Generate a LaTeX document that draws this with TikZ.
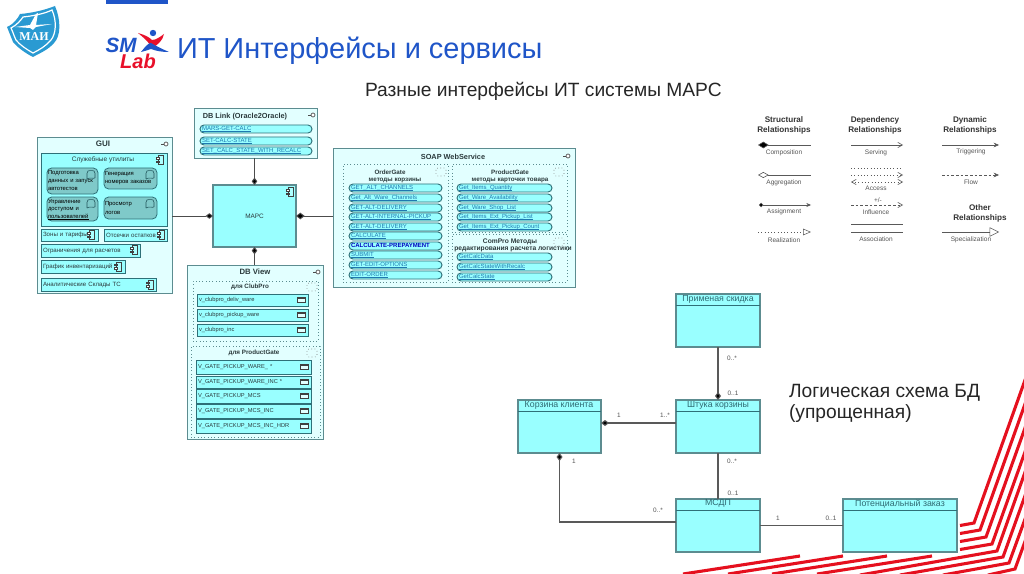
\documentclass[tikz,border=0pt]{standalone}
\usepackage{fontspec}
\setmainfont{Liberation Sans}
\newfontfamily\serifmai{Liberation Serif}
\usetikzlibrary{arrows.meta}
\definecolor{cyanA}{HTML}{99FFFF}
\definecolor{cyanB}{HTML}{E2FFFF}
\definecolor{cyanC}{HTML}{7FC9C9}
\definecolor{edgeA}{HTML}{5C8C90}
\definecolor{edgeB}{HTML}{2E7078}
\definecolor{linkblue}{HTML}{1F78B0}
\definecolor{titleblue}{HTML}{1F55C8}
\definecolor{maiblue}{HTML}{2A9AD2}
\definecolor{smred}{HTML}{E8102A}
\definecolor{stripered}{HTML}{E5101E}
\definecolor{inkA}{HTML}{2B3A3C}
\definecolor{umlink}{HTML}{2F6A72}
\definecolor{greyA}{HTML}{555555}
\newcommand\fpt[1]{\fontsize{#1}{#1}\selectfont}
\newlength\ulw
\newcommand\ul[1]{\settowidth\ulw{#1}\makebox[0pt][l]{\rule[-.65pt]{\ulw}{.22pt}}#1}
\newcommand\bx[7][]{%
  \pgfmathsetmacro\bw{(#5-#3)*0.75}\pgfmathsetmacro\bh{(#6-#4)*0.75}%
  \pgfmathsetmacro\cx{(#3+#5)/2}\pgfmathsetmacro\cy{(#4+#6)/2}%
  \node[#1,minimum width=\bw pt,minimum height=\bh pt] (#2) at (\cx,\cy) {#7};}
\tikzset{
  base/.style={inner sep=0pt,outer sep=0pt},
  lefttext/.style={text width={\bw pt-3pt},align=left},
  container/.style={base,draw=edgeA,fill=cyanB,line width=.7pt},
  dashbox/.style={base,draw=edgeA,dotted,line width=.5pt},
  util/.style={base,draw=edgeB,fill=cyanA,line width=.6pt},
  comps/.style={base,draw=edgeB,fill=cyanA,line width=.7pt,lefttext,font=\fpt{4.6},text=inkA},
  service/.style={base,draw=edgeB,fill=cyanC,rounded corners=3.5pt,line width=.6pt,lefttext,text width={\bw pt-1.5pt},font=\fpt{4.4},text=black,align=left},
  pill/.style={base,draw=edgeB,fill=cyanA,rounded corners=3pt,line width=.7pt,lefttext,font=\fpt{4.5},text=linkblue,text height=3.2pt,text depth=.9pt},
  tableitem/.style={base,draw=edgeB,fill=cyanA,line width=.6pt,lefttext,font=\fpt{4.3},text=inkA},
  core/.style={base,draw=edgeA,fill=cyanA,line width=.8pt,font=\fpt{4.8},text=inkA},
  umlclass/.style={base,draw=edgeA,fill=cyanA,line width=.8pt},
  ctitle/.style={base,font=\fpt{5.5}\bfseries,text=inkA},
  dtitle/.style={base,font=\fpt{4.7}\bfseries,text=inkA,align=center},
  txt/.style={base,font=\fpt{4.9},text=inkA},
  umltitle/.style={base,font=\fpt{6.6},text=umlink},
  mult/.style={base,font=\fpt{4.8},text=greyA},
  leghead/.style={base,font=\fpt{6.1}\bfseries,text=black!80,align=center},
  leglab/.style={base,font=\fpt{4.9},text=greyA},
  conn/.style={draw=black!70,line width=.7pt,-{Diamond[length=5.5pt,width=4.2pt,fill=black]}},
  umlconn/.style={draw=black!65,line width=.8pt},
  umlcomp/.style={umlconn,-{Diamond[length=6pt,width=4.5pt,fill=black]}},
  legline/.style={draw=black!65,line width=.45pt},
  stripe/.style={draw=stripered,line width=2.3pt,line join=miter},
  comp/.pic={
    \draw[black!75,line width=.5pt,fill=white!20!cyanA] (-2,-4.5) rectangle (3,4.5);
    \draw[black!75,line width=.4pt,fill=white] (-3.5,-2.5) rectangle (-.5,-.8);
    \draw[black!75,line width=.4pt,fill=white] (-3.5,.8) rectangle (-.5,2.5);
  },
  lolli/.pic={
    \draw[black!70,line width=.5pt] (-4,0) -- (-1,0);
    \draw[black!70,line width=.5pt,fill=white] (1,0) circle (2);
  },
  cloudi/.pic={
    \draw[black!55,dotted,line width=.45pt,rounded corners=1.5pt] (-5,-4) rectangle (5,4);
  },
  booki/.pic={
    \draw[edgeB!80!black,line width=.45pt,rounded corners=1pt] (-4,4) -- (-4,-3) .. controls (-2,-5) and (0,-4) .. (0,-3) .. controls (0,-4) and (2,-5) .. (4,-3) -- (4,4) .. controls (2,3) and (1,3) .. (0,4) .. controls (-1,3) and (-2,3) .. (-4,4);
  },
  tabl/.pic={
    \draw[black!75,line width=.45pt,fill=cyanB] (-4,-2.5) rectangle (4,2.5);
    \fill[black!75] (-4,-2.5) rectangle (4,-1);
  },
}
\begin{document}
\begin{tikzpicture}[x=0.75pt,y=-0.75pt]
\useasboundingbox (0,0) rectangle (1024,574);
\fill[white] (0,0) rectangle (1024,574);

% red stripes
\begin{scope}
\clip (0,0) rectangle (1024,574);
\draw[stripe] (960,525.5) -- (974,523) -- (1040,338);
\draw[stripe] (960,533.5) -- (980,530) -- (1040,362);
\draw[stripe] (960,541.5) -- (986,537) -- (1040,386);
\draw[stripe] (960,549.5) -- (992,544) -- (1040,410);
\draw[stripe] (683,574) -- (800,556);
\draw[stripe] (728,574) -- (843,556);
\draw[stripe] (772,574) -- (887,556);
\draw[stripe] (817,574) -- (932,556);
\draw[stripe] (860,575) -- (997,551) -- (1040,430);
\draw[stripe] (900,575) -- (1003,557) -- (1040,454);
\draw[stripe] (943,575) -- (1009,563) -- (1040,478);
\draw[stripe] (988,575) -- (1015,569) -- (1040,500);
\end{scope}

% top bar
\fill[titleblue] (106,0) rectangle (168,4);

% MAI shield
\fill[maiblue] (7,27) .. controls (14,24) and (18,18) .. (20,14) .. controls (32,13) and (45,10) .. (55,6) .. controls (61,20) and (61,36) .. (54,43) .. controls (48,50) and (40,53) .. (33,57) .. controls (25,53) and (17,47) .. (13,42) .. controls (11,37) and (9,32) .. (7,27) -- cycle;
\draw[white,line width=.9pt] (11,28) .. controls (17,25) and (21,20) .. (23,17) .. controls (32,16) and (44,14) .. (52,10) .. controls (57,21) and (56,34) .. (51,40) .. controls (46,46) and (39,50) .. (33,53) .. controls (26,49) and (20,45) .. (16,40) .. controls (14,36) and (13,32) .. (11,28) -- cycle;
\fill[white] (15,27) -- (30,25) -- (36,14) -- (38,13) -- (36,25) -- (52,24) -- (36,27) -- (33,30) -- (30,28) -- cycle;
\node[base,font=\fpt{9}\bfseries\serifmai,text=white] (mai) at (34,36.5) {МАИ};

% SM Lab logo
\node[base,font=\fpt{15.5}\bfseries\itshape,text=titleblue] (sm) at (121,45) {SM};
\node[base,font=\fpt{15}\bfseries\itshape,text=smred] (lab) at (138,61.5) {Lab};
\fill[titleblue] (153,33) circle (3.2);
\fill[smred] (138,33) .. controls (145,35) and (149,37) .. (152,40) .. controls (156,40) and (160,37) .. (164,34) .. controls (163,40) and (158,45) .. (152,48) .. controls (149,42) and (144,38) .. (138,33) -- cycle;
\fill[titleblue] (141,52) .. controls (145,47) and (148,43) .. (151,43) .. controls (156,46) and (162,49) .. (169,52) .. controls (162,52) and (156,51) .. (151,49) .. controls (148,50) and (145,51) .. (141,52) -- cycle;

% titles
\node[base,anchor=west,font=\fpt{21.7}\selectfont,text=titleblue] (title) at (177,51) {ИТ Интерфейсы и сервисы};
\node[base,anchor=west,font=\fpt{14.4}\selectfont,text=black!85] (subtitle) at (365,91) {Разные интерфейсы ИТ системы МАРС};

% GUI
\bx[container]{gui}{37}{137}{172}{293}{}
\node[ctitle,font=\fpt{6}\bfseries] (guit) at (103,144) {GUI};
\pic at (165,144) {lolli};
\bx[util]{utils}{41}{153}{167}{226}{}
\node[txt] (utilst) at (103,160) {Служебные  утилиты};
\pic at (160,160) {comp};
\bx[service]{s1}{47}{168}{98}{194}{Подготовка\\[1.6pt]данных и запуск\\[1.6pt]автотестов}
\pic at (91,175) {booki};
\bx[service]{s2}{104}{168}{157}{189}{Генерация\\[1.6pt]номеров заказов}
\pic at (150,175) {booki};
\bx[service]{s3}{47}{197}{98}{221}{Управление\\[1.2pt]доступом и\\[1.2pt]\ul{пользователей}}
\pic at (91,204) {booki};
\bx[service]{s4}{104}{197}{157}{219}{Просмотр\\[3pt]логов}
\pic at (150,204) {booki};
\bx[comps]{c1}{41}{229}{98}{241}{Зоны и тарифы}
\pic at (91,235) {comp};
\bx[comps]{c2}{104}{229}{167}{241}{Отсечки остатков}
\pic at (161,235) {comp};
\bx[comps]{c3}{41}{244}{140}{257}{Ограничения для расчетов}
\pic at (134,250) {comp};
\bx[comps]{c4}{41}{260}{125}{273}{График инвентаризаций}
\pic at (118,266.5) {comp};
\bx[comps]{c5}{41}{278}{156}{291}{Аналитические Склады ТС}
\pic at (150,284.5) {comp};

% DB Link
\bx[container]{dblink}{194}{108}{317}{158}{}
\node[ctitle] (dblinkt) at (245,117) {DB Link (Oracle2Oracle)};
\pic at (312,115) {lolli};
\bx[pill]{l1}{200}{125}{312}{133}{\ul{MARS-GET-CALC}}
\bx[pill]{l2}{200}{137}{312}{145}{\ul{SET-CALC-STATE}}
\bx[pill]{l3}{200}{147}{312}{155}{\ul{SET\_CALC\_STATE\_WITH\_RECALC}}

% MARS
\bx[core]{mars}{213}{185}{296}{247}{МАРС}
\pic at (290,192) {comp};

% DB View
\bx[container]{dbview}{187}{265}{323}{439}{}
\node[ctitle,font=\fpt{5.8}\bfseries] (dbviewt) at (255,272) {DB View};
\pic at (317,272) {lolli};
\bx[dashbox]{vclub}{193}{281}{318}{341}{}
\node[dtitle] (vclubt) at (250,287) {для ClubPro};
\pic at (312,287) {cloudi};
\bx[tableitem]{v1}{197}{294}{308}{306}{v\_clubpro\_deliv\_ware}
\pic at (301,300) {tabl};
\bx[tableitem]{v2}{197}{309}{308}{321}{v\_clubpro\_pickup\_ware}
\pic at (301,315) {tabl};
\bx[tableitem]{v3}{197}{324}{308}{336}{v\_clubpro\_inc}
\pic at (301,330) {tabl};
\bx[dashbox]{vgate}{191}{346}{320}{437}{}
\node[dtitle] (vgatet) at (254,353) {для ProductGate};
\pic at (312,353) {cloudi};
\bx[tableitem]{g1}{196}{360}{311}{374}{V\_GATE\_PICKUP\_WARE\_ *}
\pic at (304,367) {tabl};
\bx[tableitem]{g2}{196}{376}{311}{388}{V\_GATE\_PICKUP\_WARE\_INC *}
\pic at (304,382) {tabl};
\bx[tableitem]{g3}{196}{389}{311}{403}{V\_GATE\_PICKUP\_MCS}
\pic at (304,396) {tabl};
\bx[tableitem]{g4}{196}{404}{311}{418}{V\_GATE\_PICKUP\_MCS\_INC}
\pic at (304,411) {tabl};
\bx[tableitem]{g5}{196}{419}{311}{433}{V\_GATE\_PICKUP\_MCS\_INC\_HDR}
\pic at (304,426) {tabl};

% SOAP
\bx[container]{soap}{333}{148}{575}{287}{}
\node[ctitle] (soapt) at (453,157) {SOAP WebService};
\pic at (567,156) {lolli};
\bx[dashbox]{og}{343}{164}{448}{282}{}
\node[dtitle] (ogt) at (390,172) {OrderGate};
\node[dtitle] (ogs) at (395,180) {методы  корзины};
\pic at (441,172) {cloudi};
\bx[pill]{o1}{349}{184}{442}{192}{\ul{GET\_ALT\_CHANNELS}}
\bx[pill]{o2}{349}{194}{442}{202}{\ul{Get\_Alt\_Ware\_Channels}}
\bx[pill]{o3}{349}{204}{442}{212}{\ul{GET-ALT-DELIVERY}}
\bx[pill]{o4}{349}{213}{442}{221}{\ul{GET-ALT-INTERNAL-PICKUP}}
\bx[pill]{o5}{349}{223}{442}{231}{\ul{GET-ALT-DELIVERY}}
\bx[pill]{o6}{349}{232}{442}{240}{\ul{CALCULATE}}
\bx[pill,text=blue!75!black]{o7}{349}{242}{442}{250}{\textbf{CALCULATE-PREPAYMENT}}
\bx[pill]{o8}{349}{251}{442}{259}{\ul{SUBMIT}}
\bx[pill]{o9}{349}{261}{442}{269}{\ul{GET-EDIT-OPTIONS}}
\bx[pill]{o10}{349}{271}{442}{279}{\ul{EDIT-ORDER}}
\bx[dashbox]{pg}{452}{164}{567}{232}{}
\node[dtitle] (pgt) at (510,172) {ProductGate};
\node[dtitle] (pgs) at (510,180) {методы  карточки товара};
\pic at (559,172) {cloudi};
\bx[pill]{p1}{457}{184}{552}{192}{\ul{Get\_Items\_Quantity}}
\bx[pill]{p2}{457}{194}{552}{202}{\ul{Get\_Ware\_Availability}}
\bx[pill]{p3}{457}{204}{552}{212}{\ul{Get\_Ware\_Shop\_List}}
\bx[pill]{p4}{457}{213}{552}{221}{\ul{Get\_Items\_Ext\_Pickup\_List}}
\bx[pill]{p5}{457}{223}{552}{231}{\ul{Get\_Items\_Ext\_Pickup\_Count}}
\bx[dashbox]{cp}{452}{234}{567}{282}{}
\node[dtitle,font=\fpt{5}\bfseries] (cpt) at (510,242) {ComPro Методы};
\node[dtitle,font=\fpt{5}\bfseries] (cps) at (513,249) {редактирования расчета логистики};
\pic at (559,242) {cloudi};
\bx[pill]{q1}{457}{253}{552}{261}{\ul{GetCalcData}}
\bx[pill]{q2}{457}{263}{552}{271}{\ul{GetCalcStateWithRecalc}}
\bx[pill]{q3}{457}{273}{552}{281}{\ul{GetCalcState}}

% connectors to MARS
\draw[conn] (dblink.south -| mars.north) -- (mars.north);
\draw[conn] (gui.east |- mars.west) -- (mars.west);
\draw[conn,-{Diamond[length=6.5pt,width=5pt,fill=black]}] (soap.west |- mars.east) -- (mars.east);
\draw[conn] (dbview.north -| mars.south) -- (mars.south);

% Legend
\node[leghead] (h1) at (784,125) {Structural\\[1.5pt]Relationships};
\node[leghead] (h2) at (875,125) {Dependency\\[1.5pt]Relationships};
\node[leghead] (h3) at (970,125) {Dynamic\\[1.5pt]Relationships};
\node[leghead] (h4) at (980,213) {Other\\[1.5pt]Relationships};
\draw[legline,{Diamond[length=8pt,width=5pt,fill=black]}-] (758,145) -- (811,145);
\node[leglab] (lg1) at (784,153) {Composition};
\draw[legline,{Diamond[open,length=8pt,width=4.5pt]}-] (758,175) -- (811,175);
\node[leglab] (lg2) at (784,183) {Aggregation};
\draw[legline,{Circle[length=3.2pt,fill=black]}-{Stealth[length=3.5pt,width=3pt]}] (759,205) -- (811,205);
\node[leglab] (lg3) at (784,212) {Assignment};
\draw[legline,dotted,-{Triangle[open,length=6pt,width=5pt,line width=.4pt]}] (758,232) -- (811,232);
\node[leglab] (lg4) at (784,240) {Realization};
\draw[legline,-{Straight Barb[length=3.5pt,width=4pt]}] (851,145) -- (903,145);
\node[leglab] (lg5) at (876,153) {Serving};
\draw[legline,dotted] (851,168) -- (903,168);
\draw[legline,dotted,-{Straight Barb[length=3.5pt,width=4pt]}] (851,175) -- (903,175);
\draw[legline,dotted,{Straight Barb[length=3.5pt,width=4pt]}-{Straight Barb[length=3.5pt,width=4pt]}] (851,182) -- (903,182);
\node[leglab] (lg6) at (876,188) {Access};
\node[leglab] (lg7a) at (878,200) {+/-};
\draw[legline,dash pattern=on 2pt off 1.5pt,-{Straight Barb[length=3.5pt,width=4pt]}] (851,205) -- (903,205);
\node[leglab] (lg7) at (876,212) {Influence};
\draw[legline,line width=.7pt] (851,224) -- (903,224);
\draw[legline,line width=.7pt] (851,232) -- (903,232);
\node[leglab] (lg8) at (876,239) {Association};
\draw[legline,-{Stealth[length=4pt,width=3.5pt]}] (942,145) -- (999,145);
\node[leglab] (lg9) at (971,152) {Triggering};
\draw[legline,dash pattern=on 2pt off 1.5pt,-{Stealth[length=4pt,width=3.5pt]}] (942,175) -- (999,175);
\node[leglab] (lg10) at (971,182) {Flow};
\draw[legline,line width=.6pt,-{Triangle[open,length=7pt,width=7pt,line width=.4pt]}] (942,232) -- (999,232);
\node[leglab] (lg11) at (971,240) {Specialization};

% UML classes
\bx[umlclass]{skid}{676}{294}{760}{347}{}
\draw[draw=edgeB,line width=.7pt] (skid.north west |- 0,305) -- (skid.north east |- 0,305);
\node[umltitle] (skidt) at (718,299.5) {Применая скидка};
\bx[umlclass]{sht}{676}{400}{760}{453}{}
\draw[draw=edgeB,line width=.7pt] (sht.north west |- 0,411) -- (sht.north east |- 0,411);
\node[umltitle] (shtt) at (718,405.5) {Штука корзины};
\bx[umlclass]{korz}{518}{400}{601}{453}{}
\draw[draw=edgeB,line width=.7pt] (korz.north west |- 0,411) -- (korz.north east |- 0,411);
\node[umltitle] (korzt) at (559,405.5) {Корзина клиента};
\bx[umlclass]{msdp}{676}{499}{760}{552}{}
\draw[draw=edgeB,line width=.7pt] (msdp.north west |- 0,510) -- (msdp.north east |- 0,510);
\node[umltitle] (msdpt) at (718,503.5) {МСДП};
\bx[umlclass]{pot}{843}{499}{957}{552}{}
\draw[draw=edgeB,line width=.7pt] (pot.north west |- 0,510) -- (pot.north east |- 0,510);
\node[umltitle] (pott) at (900,504) {Потенциальный заказ};

% UML connectors
\coordinate (y423) at (640,423);
\coordinate (y522) at (600,522);
\draw[umlcomp] (skid.south) -- (sht.north);
\draw[umlcomp] (sht.west |- y423) -- (korz.east |- y423);
\draw[umlconn] (sht.south) -- (msdp.north);
\draw[umlcomp] (msdp.west |- y522) -| (korz.south);
\draw[umlconn] (msdp.east) -- (pot.west);

% multiplicities
\node[mult] (m1) at (732,358) {0..*};
\node[mult] (m2) at (733,393) {0..1};
\node[mult] (m3) at (619,415) {1};
\node[mult] (m4) at (665,415) {1..*};
\node[mult] (m5) at (732,461) {0..*};
\node[mult] (m6) at (733,493) {0..1};
\node[mult] (m7) at (574,461) {1};
\node[mult] (m8) at (658,510) {0..*};
\node[mult] (m9) at (778,518) {1};
\node[mult] (m10) at (831,518) {0..1};

% logical schema caption
\node[base,anchor=north west,align=left,font=\fpt{14.4}\selectfont,text=black!85] (cap) at (789,384) {Логическая схема БД\\[1.2pt](упрощенная)};
\end{tikzpicture}
\end{document}
